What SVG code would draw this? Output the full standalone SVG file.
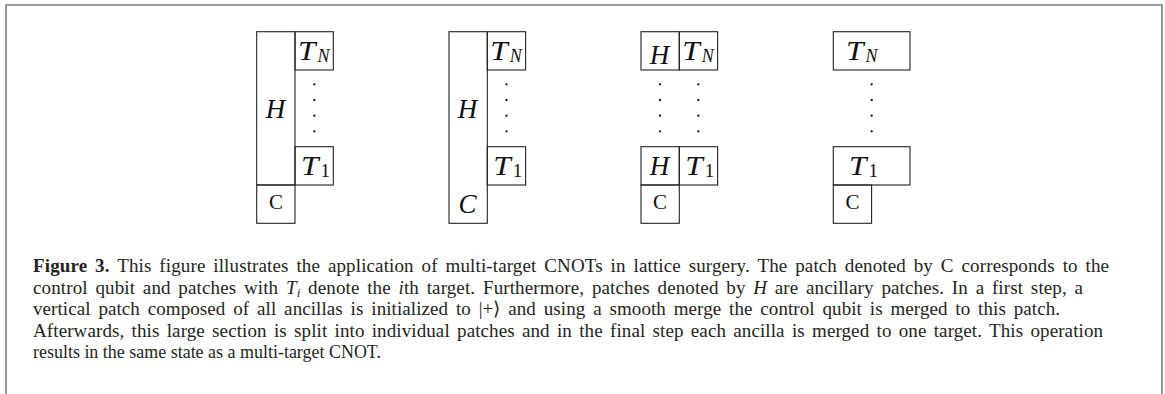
<svg xmlns="http://www.w3.org/2000/svg" width="1165" height="394" viewBox="0 0 1165 394">
<style>
.cell{fill:none;stroke:#222;stroke-width:1.1}
.frame{fill:none;stroke:#999;stroke-width:2}
.m{font-family:"Liberation Serif","Times New Roman",serif;font-style:italic;font-size:27px;fill:#111}
.r{font-family:"Liberation Serif","Times New Roman",serif;font-size:21px;fill:#111}
.sn{font-size:18px}
.s1{font-size:19px;font-style:normal}
.dot{fill:#111}
.cap{font-family:"Liberation Serif","Times New Roman",serif;font-size:19px;fill:#231f20}
.b{font-weight:bold}
.i{font-style:italic}
</style>
<defs>
<g id="dots"><circle cx="0" cy="84.3" r="1.15"/><circle cx="0" cy="100" r="1.15"/><circle cx="0" cy="115.7" r="1.15"/><circle cx="0" cy="131.3" r="1.15"/></g>
</defs>
<path class="frame" d="M6,394 V5 H1162 V394"/>
<g id="panel1">
<rect class="cell" x="256.7" y="31.7" width="38.3" height="153.3"/>
<rect class="cell" x="256.7" y="185" width="38.3" height="38.3"/>
<rect class="cell" x="295" y="31.7" width="38.3" height="38.3"/>
<rect class="cell" x="295" y="146.7" width="38.3" height="38.3"/>
<text class="m" x="275.5" y="117.5" text-anchor="middle">H</text>
<text class="r" x="276" y="209" text-anchor="middle">C</text>
<text class="m" x="298" y="60" textLength="17.5" lengthAdjust="spacingAndGlyphs">T</text><text class="m sn" x="317.5" y="61.7">N</text>
<text class="m" x="301" y="175" textLength="17.5" lengthAdjust="spacingAndGlyphs">T</text><text class="m s1" x="320.5" y="176.7">1</text>
<use href="#dots" x="314.3" class="dot"/>
</g>
<g id="panel2">
<rect class="cell" x="449" y="31.7" width="38.3" height="191.6"/>
<rect class="cell" x="487.3" y="31.7" width="38.3" height="38.3"/>
<rect class="cell" x="487.3" y="146.7" width="38.3" height="38.3"/>
<text class="m" x="467.5" y="117.5" text-anchor="middle">H</text>
<text class="m" x="467.5" y="213" text-anchor="middle">C</text>
<text class="m" x="490.3" y="60" textLength="17.5" lengthAdjust="spacingAndGlyphs">T</text><text class="m sn" x="509.8" y="61.7">N</text>
<text class="m" x="493.3" y="175" textLength="17.5" lengthAdjust="spacingAndGlyphs">T</text><text class="m s1" x="512.8" y="176.7">1</text>
<use href="#dots" x="506.5" class="dot"/>
</g>
<g id="panel3">
<rect class="cell" x="641" y="31.7" width="38.3" height="38.3"/>
<rect class="cell" x="679.3" y="31.7" width="38.3" height="38.3"/>
<rect class="cell" x="641" y="146.7" width="38.3" height="38.3"/>
<rect class="cell" x="679.3" y="146.7" width="38.3" height="38.3"/>
<rect class="cell" x="641" y="185" width="38.3" height="38.3"/>
<text class="m" x="659.5" y="63.5" text-anchor="middle">H</text>
<text class="m" x="659.5" y="175" text-anchor="middle">H</text>
<text class="r" x="660" y="209" text-anchor="middle">C</text>
<text class="m" x="682.3" y="60" textLength="17.5" lengthAdjust="spacingAndGlyphs">T</text><text class="m sn" x="701.8" y="61.7">N</text>
<text class="m" x="685.3" y="175" textLength="17.5" lengthAdjust="spacingAndGlyphs">T</text><text class="m s1" x="704.8" y="176.7">1</text>
<use href="#dots" x="660" class="dot"/>
<use href="#dots" x="698.3" class="dot"/>
</g>
<g id="panel4">
<rect class="cell" x="833.3" y="31.7" width="76.7" height="38.3"/>
<rect class="cell" x="833.3" y="146.7" width="76.7" height="38.3"/>
<rect class="cell" x="833.3" y="185" width="38.3" height="38.3"/>
<text class="m" x="846" y="60" textLength="17.5" lengthAdjust="spacingAndGlyphs">T</text><text class="m sn" x="865.5" y="61.7">N</text>
<text class="m" x="849" y="175" textLength="17.5" lengthAdjust="spacingAndGlyphs">T</text><text class="m s1" x="868.5" y="176.7">1</text>
<text class="r" x="852.5" y="209" text-anchor="middle">C</text>
<use href="#dots" x="871.7" class="dot"/>
</g>
<g id="caption" class="cap">
<text x="33" y="272" word-spacing="3" textLength="1076" lengthAdjust="spacing"><tspan class="b">Figure 3.</tspan> This figure illustrates the application of multi-target CNOTs in lattice surgery. The patch denoted by C corresponds to the</text>
<text x="33" y="293.5" word-spacing="2.8" textLength="1050" lengthAdjust="spacing">control qubit and patches with <tspan class="i">T</tspan><tspan class="i" font-size="13" dy="3">i</tspan><tspan dy="-3"> denote the </tspan><tspan class="i">i</tspan>th target. Furthermore, patches denoted by <tspan class="i">H</tspan> are ancillary patches. In a first step, a</text>
<text x="33" y="315" word-spacing="3" textLength="1027" lengthAdjust="spacing">vertical patch composed of all ancillas is initialized to |+⟩ and using a smooth merge the control qubit is merged to this patch.</text>
<text x="33" y="336.5" word-spacing="2.4" textLength="1070" lengthAdjust="spacing">Afterwards, this large section is split into individual patches and in the final step each ancilla is merged to one target. This operation</text>
<text x="33" y="357.5" textLength="348" lengthAdjust="spacingAndGlyphs">results in the same state as a multi-target CNOT.</text>
</g>
</svg>
